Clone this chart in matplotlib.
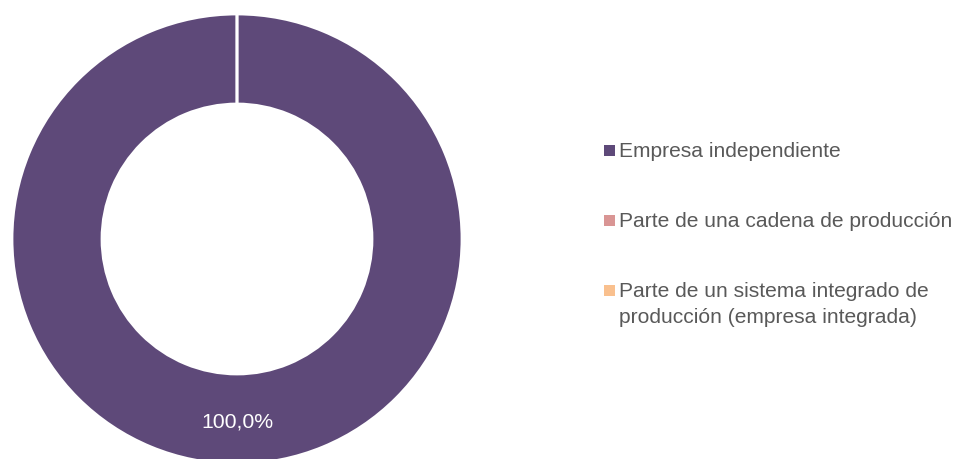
import matplotlib.pyplot as plt
from matplotlib.patches import Rectangle

plt.rcParams['font.family'] = ['Liberation Sans', 'DejaVu Sans']

# datos
categorias = ['Empresa independiente',
              'Parte de una cadena de producción',
              'Parte de un sistema integrado de\nproducción (empresa integrada)']
valores = [100.0, 0.0, 0.0]
colores = ['#5e4979', '#d99594', '#f9c08e']

W, H = 956, 460
fig = plt.figure(figsize=(W / 100, H / 100), dpi=100)

# anillo: centro (237, 240) px, radio 225 px
ax = fig.add_axes([12 / W, (H - 465) / H, 450 / W, 450 / H])

def etiqueta(p):
    if p <= 0:
        return ''
    return ('%.1f' % p).replace('.', ',') + '%'

wedges, textos, autotextos = ax.pie(valores, colors=colores, startangle=90, counterclock=False,
                                    radius=1, autopct=etiqueta, pctdistance=0.81,
                                    wedgeprops=dict(width=0.4, edgecolor='white', linewidth=2))
for t in autotextos:
    t.set_color('white')
    t.set_fontsize(15.3)
ax.set_xlim(-1, 1)
ax.set_ylim(-1, 1)
ax.axis('off')

# leyenda a mano (el marcador va en la primera línea)
centros_y = [151.5, 221.5, 291]
for cat, col, cy in zip(categorias, colores, centros_y):
    fig.add_artist(Rectangle((603.5 / W, (H - cy - 5.5) / H), 11 / W, 11 / H,
                             transform=fig.transFigure, facecolor=col, edgecolor='none'))
    for k, linea in enumerate(cat.split('\n')):
        fig.text(619 / W, (H - cy - 6 - 26 * k) / H, linea, fontsize=15.1, color='#595959',
                 ha='left', va='baseline')

fig.savefig('out.png', dpi=100)
